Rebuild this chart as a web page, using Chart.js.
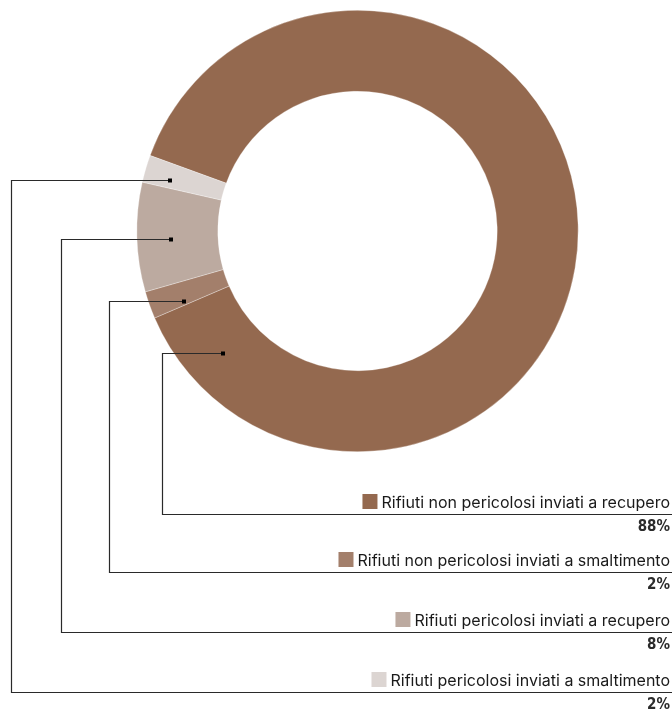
<!DOCTYPE html>
<html>
<head>
<meta charset="utf-8">
<script src="https://cdn.jsdelivr.net/npm/chart.js@4.4.1/dist/chart.umd.min.js"></script>
<style>
  html, body { margin: 0; padding: 0; background: #fff; }
  .chart-wrapper { width: 672px; height: 714px; position: relative; }
</style>
</head>
<body>
<div class="chart-wrapper">
  <canvas id="rifiuti"></canvas>
</div>
<script>
const fontFamily = "Inter, 'Liberation Sans', sans-serif";
const figureFont = "'Liberation Sans Narrow', 'DejaVu Sans Condensed', 'Liberation Sans', sans-serif";

const categories = [
  'Rifiuti non pericolosi inviati a recupero',
  'Rifiuti non pericolosi inviati a smaltimento',
  'Rifiuti pericolosi inviati a recupero',
  'Rifiuti pericolosi inviati a smaltimento'
];
const shares = [88, 2, 8, 2];
const shareLabels = ['88%', '2%', '8%', '2%'];
const colors = ['#94694f', '#a37f6b', '#bcaaa0', '#dcd5d2'];

// where each leader starts on its slice: [fraction along the arc, fraction across the ring]
const anchors = [[0.94, 0.51], [0.17, 0.58], [0.47, 0.58], [0.33, 0.67]];
// x of the vertical run and y of the underline for each leader
const leaderX = [162, 109, 61, 11];
const rowY = [514, 572, 632, 692];

const calloutPlugin = {
  id: 'callouts',
  afterDraw(chart) {
    const ctx = chart.ctx;
    const arcs = chart.getDatasetMeta(0).data;
    const right = chart.width;
    ctx.save();
    arcs.forEach((arc, i) => {
      const { x, y, startAngle, endAngle, innerRadius, outerRadius } = arc.getProps(
        ['x', 'y', 'startAngle', 'endAngle', 'innerRadius', 'outerRadius'], true);
      const a = startAngle + (endAngle - startAngle) * anchors[i][0];
      const r = innerRadius + (outerRadius - innerRadius) * anchors[i][1];
      const px = Math.round(x + r * Math.cos(a));
      const py = Math.round(y + r * Math.sin(a));
      const lx = leaderX[i] + 0.5;
      const ly = rowY[i] + 0.5;

      ctx.strokeStyle = '#2a2a2a';
      ctx.lineWidth = 1.2;
      ctx.beginPath();
      ctx.moveTo(px, py + 0.5);
      ctx.lineTo(lx, py + 0.5);
      ctx.lineTo(lx, ly);
      ctx.lineTo(right, ly);
      ctx.stroke();

      ctx.fillStyle = '#000';
      ctx.fillRect(px - 2, py - 1.5, 4, 4);

      // label row: swatch + category name, percentage under the line
      ctx.font = `400 16px ${fontFamily}`;
      ctx.textAlign = 'right';
      ctx.textBaseline = 'alphabetic';
      ctx.fillStyle = '#1a1a1a';
      const textRight = right - 2;
      ctx.fillText(categories[i], textRight, rowY[i] - 6);
      const w = ctx.measureText(categories[i]).width;
      ctx.fillStyle = colors[i];
      ctx.fillRect(textRight - w - 19, rowY[i] - 20, 15, 15);

      ctx.fillStyle = '#2b2b2b';
      ctx.font = `700 15px ${figureFont}`;
      ctx.fillText(shareLabels[i], textRight, rowY[i] + 17);
    });
    ctx.restore();
  }
};

new Chart(document.getElementById('rifiuti'), {
  type: 'doughnut',
  data: {
    labels: categories,
    datasets: [{
      data: shares,
      backgroundColor: colors,
      borderColor: 'rgba(255,255,255,0.5)',
      borderWidth: 0.6
    }]
  },
  options: {
    responsive: true,
    maintainAspectRatio: false,
    animation: false,
    rotation: 290,
    cutout: '63.3%',
    layout: { padding: { left: 136, right: 93, top: 10, bottom: 262 } },
    plugins: {
      legend: { display: false },
      tooltip: { enabled: false }
    }
  },
  plugins: [calloutPlugin]
});
</script>
</body>
</html>
